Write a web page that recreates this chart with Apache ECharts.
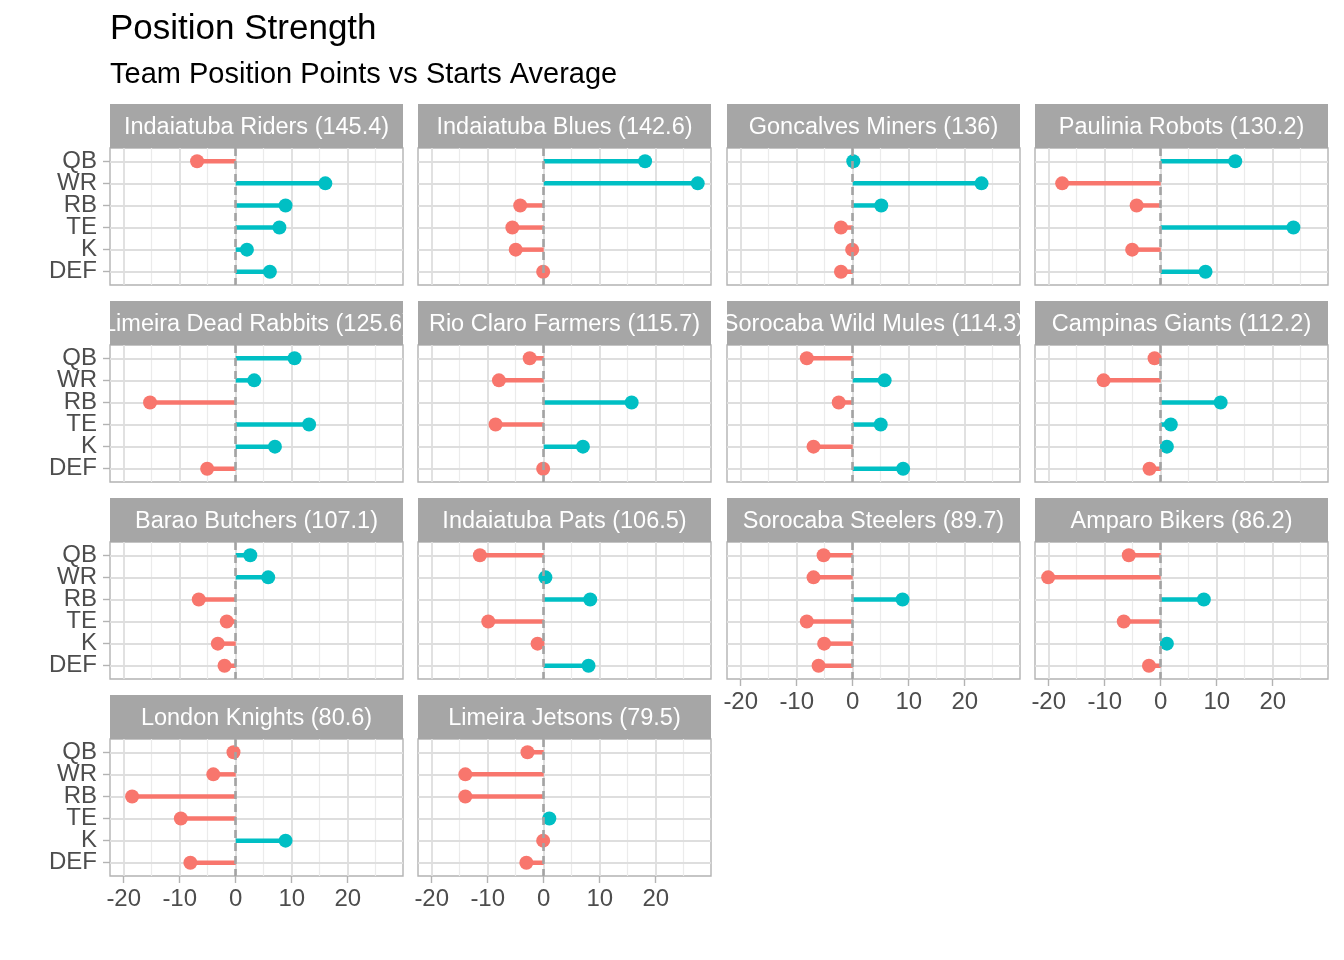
<!DOCTYPE html>
<html><head><meta charset="utf-8">
<script src="https://cdn.jsdelivr.net/npm/echarts@6/dist/echarts.min.js"></script>
<style>html,body{margin:0;padding:0;background:#fff}#c{width:1344px;height:960px}</style>
</head><body><div id="c"></div>
<script>
// ---- data ----
const teams = ["Indaiatuba Riders","Indaiatuba Blues","Goncalves Miners","Paulinia Robots",
  "Limeira Dead Rabbits","Rio Claro Farmers","Sorocaba Wild Mules","Campinas Giants",
  "Barao Butchers","Indaiatuba Pats","Sorocaba Steelers","Amparo Bikers",
  "London Knights","Limeira Jetsons"];
const totals = [145.4,142.6,136,130.2,125.6,115.7,114.3,112.2,107.1,106.5,89.7,86.2,80.6,79.5];
const positions = ["QB","WR","RB","TE","K","DEF"];
const qbDiff  = [-6.9, 18.1,  0.1, 13.3, 10.5, -2.5, -8.2, -1.1,  2.6, -11.4, -5.2, -5.7, -0.4, -2.9];
const wrDiff  = [16.0, 27.5, 23.0,-17.6,  3.3, -8.0,  5.7,-10.2,  5.8,   0.3, -7.0,-20.1, -4.0,-14.0];
const rbDiff  = [ 8.9, -4.2,  5.1, -4.3,-15.3, 15.7, -2.5, 10.7, -6.6,   8.3,  8.9,  7.7,-18.5,-14.0];
const teDiff  = [ 7.8, -5.6, -2.1, 23.7, 13.1, -8.6,  5.0,  1.8, -1.6,  -9.9, -8.2, -6.6, -9.8,  1.0];
const kDiff   = [ 2.0, -5.0, -0.1, -5.1,  7.0,  7.0, -7.0,  1.1, -3.2,  -1.1, -5.1,  1.1,  8.9, -0.1];
const defDiff = [ 6.1, -0.1, -2.1,  8.0, -5.1, -0.1,  9.0, -2.0, -2.0,   8.0, -6.1, -2.1, -8.1, -3.1];
const xTicks = [-20,-10,0,10,20];
const xMinor = [-15,-5,5,15,25];
const xLimits = [-22.45, 29.87];

// ---- layout / style ----
const FONT = "'Liberation Sans', Arial, Helvetica, sans-serif";
const colLeft = [110, 418, 727, 1035], panelW = 293;
const stripTop = [104, 301, 498, 695], stripH = 44, plotH = 137;
const yPad = 0.6; // discrete axis expansion (each side)
const RED = '#F8766D', TEAL = '#00BFC4';
const diffsByPos = [qbDiff, wrDiff, rbDiff, teDiff, kDiff, defDiff];
const posIdx = positions.map((p, k) => k + 1);
const yMin = 1 - yPad, yMax = positions.length + yPad;

const chart = echarts.init(document.getElementById('c'), null, {renderer: 'canvas'});
const grid = [], xAxis = [], yAxis = [], series = [];

teams.forEach((team, i) => {
  const r = Math.floor(i / 4), c = i % 4;
  const left = colLeft[c], top = stripTop[r] + stripH;
  const showX = i >= teams.length - 4;
  const showY = c === 0;
  const gi = grid.length;
  grid.push({left, top, width: panelW, height: plotH, show: true, borderColor: '#B3B3B3', borderWidth: 1.4, backgroundColor: '#fff'});
  xAxis.push({gridIndex: gi, type: 'value', min: xLimits[0], max: xLimits[1],
    axisLine: {show: false}, splitLine: {show: false},
    axisTick: {show: showX, customValues: xTicks, length: 7, lineStyle: {color: '#B3B3B3', width: 1.4}},
    axisLabel: {show: showX, customValues: xTicks, showMinLabel: true, showMaxLabel: true, hideOverlap: false,
      fontSize: 24, color: '#4D4D4D', fontFamily: FONT, margin: 11}});
  yAxis.push({gridIndex: gi, type: 'value', min: yMin, max: yMax, inverse: true,
    axisLine: {show: false}, splitLine: {show: false}, axisTick: {show: false}, axisLabel: {show: false}});

  // grid lines
  series.push({type: 'line', xAxisIndex: gi, yAxisIndex: gi, data: [], silent: true, z: 1,
    markLine: {z: 1, silent: true, symbol: ['none', 'none'], label: {show: false}, animation: false,
      emphasis: {disabled: true},
      data: [
        ...xMinor.map(v => ({xAxis: v, lineStyle: {color: '#EBEBEB', width: 1.2, type: 'solid'}})),
        ...xTicks.map(v => ({xAxis: v, lineStyle: {color: '#DEDEDE', width: 1.8, type: 'solid'}})),
        ...posIdx.map(v => ({yAxis: v, lineStyle: {color: '#DEDEDE', width: 1.8, type: 'solid'}}))
      ]}});

  // segments
  series.push({type: 'custom', xAxisIndex: gi, yAxisIndex: gi, z: 3, silent: true, clip: false,
    data: positions.map((p, k) => [diffsByPos[k][i], k + 1]),
    encode: {x: 0, y: 1},
    renderItem: (params, api) => {
      const v = api.value(0), y = api.value(1);
      const a = api.coord([0, y]), b = api.coord([v, y]);
      return {type: 'line', shape: {x1: a[0], y1: a[1], x2: b[0], y2: b[1]},
        style: {stroke: v < 0 ? RED : TEAL, lineWidth: 4.5, lineCap: 'butt'}};
    }});

  // points
  series.push({type: 'scatter', xAxisIndex: gi, yAxisIndex: gi, z: 4, silent: true, symbolSize: 14,
    data: positions.map((p, k) => {
      const v = diffsByPos[k][i];
      return {value: [v, k + 1], itemStyle: {color: v < 0 ? RED : TEAL, opacity: 1}};
    })});

  // zero reference line
  series.push({type: 'line', xAxisIndex: gi, yAxisIndex: gi, data: [], silent: true, z: 6,
    markLine: {z: 10, silent: true, symbol: ['none', 'none'], label: {show: false}, animation: false,
      emphasis: {disabled: true},
      data: [{xAxis: 0, lineStyle: {color: '#A3A3A3', width: 2.6, type: [8, 5]}}]}});

  // category label axis for the left column (aligned with the padded value axis)
  if (showY) {
    const li = grid.length;
    const unit = plotH / (yMax - yMin);
    grid.push({left, top: top + (yPad - 0.5) * unit, width: panelW, height: unit * positions.length, show: false});
    xAxis.push({gridIndex: li, type: 'value', show: false, min: 0, max: 1});
    yAxis.push({gridIndex: li, type: 'category', data: positions, inverse: true, boundaryGap: true,
      axisLine: {show: false}, splitLine: {show: false},
      axisTick: {show: true, alignWithLabel: true, interval: 0, length: 7, lineStyle: {color: '#B3B3B3', width: 1.4}},
      axisLabel: {show: true, interval: 0, hideOverlap: false, fontSize: 24, color: '#4D4D4D', fontFamily: FONT, margin: 13}});
  }

  // strip
  const si = grid.length;
  grid.push({left, top: stripTop[r], width: panelW, height: stripH, show: false});
  xAxis.push({gridIndex: si, type: 'value', show: false, min: 0, max: 1});
  yAxis.push({gridIndex: si, type: 'value', show: false, min: 0, max: 1});
  const label = team + ' (' + totals[i] + ')';
  series.push({type: 'custom', xAxisIndex: si, yAxisIndex: si, clip: true, silent: true, z: 2,
    data: [[0.5, 0.5]], encode: {x: 0, y: 1},
    renderItem: (params, api) => {
      const cs = params.coordSys;
      return {type: 'group', children: [
        {type: 'rect', shape: {x: cs.x, y: cs.y, width: cs.width, height: cs.height}, style: {fill: '#A6A6A6'}},
        {type: 'text', x: cs.x + cs.width / 2, y: cs.y + cs.height / 2 + 1.5,
          style: {text: label, fill: '#FFFFFF', font: '23.5px ' + FONT, align: 'center', verticalAlign: 'middle'}}
      ]};
    }});
});

chart.setOption({
  animation: false,
  backgroundColor: '#FFFFFF',
  title: [
    {text: 'Position Strength', left: 110, top: 12, padding: 0,
      textStyle: {fontSize: 35, fontWeight: 'normal', color: '#000', fontFamily: FONT}},
    {text: 'Team Position Points vs Starts Average', left: 110, top: 60, padding: 0,
      textStyle: {fontSize: 29, fontWeight: 'normal', color: '#000', fontFamily: FONT}}
  ],
  grid, xAxis, yAxis, series
});
</script>
</body></html>
